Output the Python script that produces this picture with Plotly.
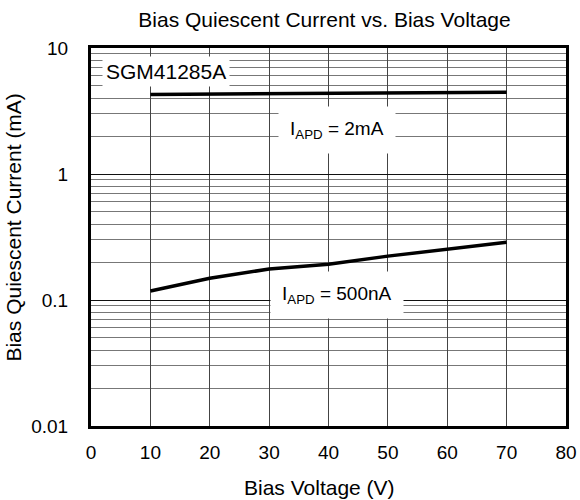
import plotly.graph_objects as go

# Bias voltage (V) and bias quiescent current (mA)
voltage = [10, 20, 30, 40, 50, 60, 70]
iq_2ma = [4.28, 4.30, 4.32, 4.35, 4.38, 4.41, 4.45]
iq_500na = [0.118, 0.149, 0.176, 0.192, 0.223, 0.252, 0.287]

y_ticks = [0.01, 0.1, 1, 10]
y_labels = ["0.01", "0.1", "1", "10"]

font = "Liberation Sans, Arial, sans-serif"

fig = go.Figure()
fig.add_trace(go.Scatter(x=voltage, y=iq_2ma, mode="lines",
                         line=dict(color="black", width=3.5), showlegend=False))
fig.add_trace(go.Scatter(x=voltage, y=iq_500na, mode="lines",
                         line=dict(color="black", width=3.5), showlegend=False))

# labels with white boxes that hide the grid behind them
fig.add_annotation(x=12.7, y=0.81, xref="x", yref="y", text="SGM41285A",
                   showarrow=False, font=dict(size=21, color="black"),
                   bgcolor="white", borderpad=3)
fig.add_annotation(x=41.5, y=0.35, xref="x", yref="y",
                   text="I<sub>APD</sub> = 2mA", showarrow=False,
                   font=dict(size=19, color="black"), bgcolor="white", borderpad=11)
fig.add_annotation(x=41.5, y=-0.96, xref="x", yref="y",
                   text="I<sub>APD</sub> = 500nA", showarrow=False,
                   font=dict(size=19, color="black"), bgcolor="white", borderpad=11)

# axis titles, placed as in the reference (slightly off-centre)
fig.add_annotation(x=38.4, y=0, xref="x", yref="paper", text="Bias Voltage (V)",
                   showarrow=False, yanchor="middle", yshift=-61,
                   font=dict(size=21, color="black"))
fig.add_annotation(x=0, y=-0.425, xref="paper", yref="y", text="Bias Quiescent Current (mA)",
                   showarrow=False, textangle=-90, xanchor="center", xshift=-77,
                   font=dict(size=21, color="black"))

fig.update_layout(
    width=580, height=500,
    margin=dict(l=91, r=14, t=48, b=74),
    paper_bgcolor="white", plot_bgcolor="white",
    font=dict(family=font, size=19, color="black"),
    title=dict(text="Bias Quiescent Current vs. Bias Voltage", x=0.5595, xanchor="center",
               y=0.96, yanchor="middle", font=dict(size=21, family=font, color="black")),
    xaxis=dict(
        range=[0, 80], dtick=10, ticks="", showgrid=True, automargin=False,
        gridcolor="#444444", gridwidth=1, showline=True, linecolor="black",
        linewidth=3, mirror=True, zeroline=False, tickfont=dict(size=19),
        ticklabelstandoff=7,
    ),
    yaxis=dict(
        type="log", range=[-2, 1], tickvals=y_ticks, ticktext=y_labels,
        ticks="", showgrid=True, gridcolor="#111111", gridwidth=1, automargin=False,
        minor=dict(dtick="D1", showgrid=True, gridcolor="#777777", gridwidth=1, ticks=""),
        showline=True, linecolor="black", linewidth=3, mirror=True, zeroline=False,
        tickfont=dict(size=19), ticklabelstandoff=16,
    ),
)

# drop the page's default body margin so the 580x500 figure fills the window
fig.write_html("out.html", config={"displayModeBar": False},
               post_script="document.body.style.margin = '0';")
